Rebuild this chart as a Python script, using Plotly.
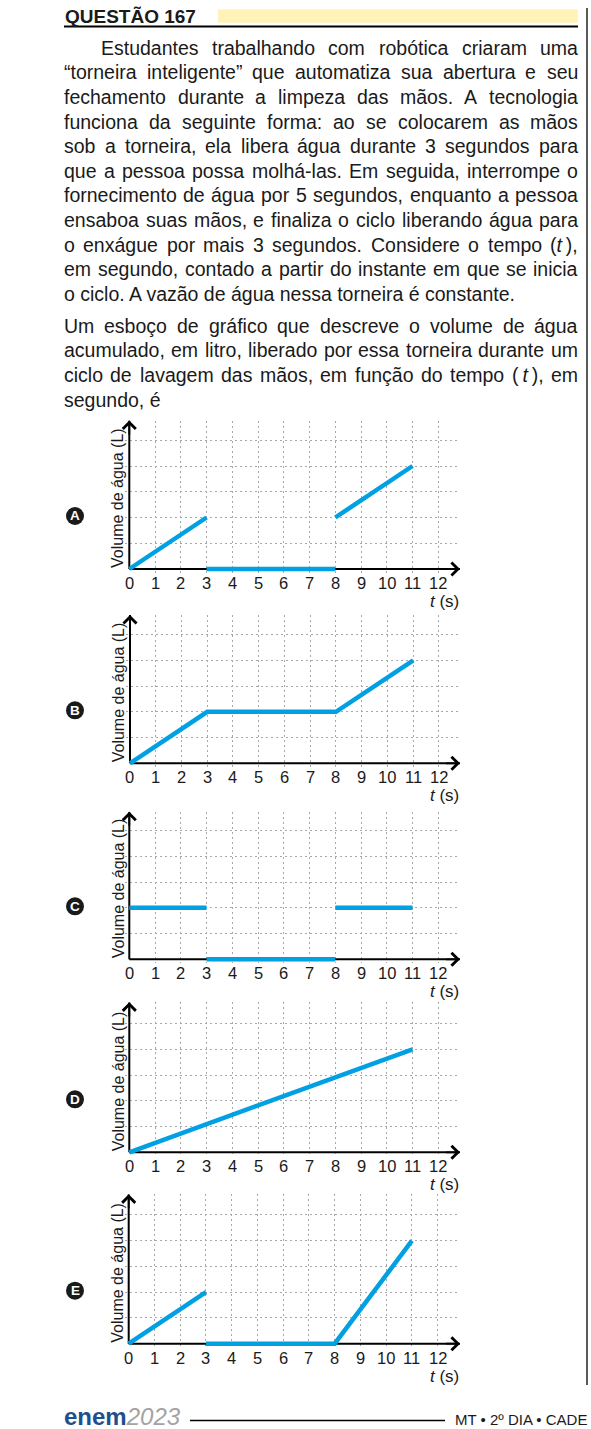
import re
import plotly.graph_objects as go

W_PX, H_PX = 591, 1429
FONT = "Liberation Sans, Arial, sans-serif"
BLUE = "#00a0e3"
INK = "#1a1a1a"

# volume (grid units) against time t (s) for each answer option
option_letters = ["A", "B", "C", "D", "E"]
t_a = [0, 3, None, 3, 8, None, 8, 11]
v_a = [0, 2, None, 0, 0, None, 2, 4]
t_b = [0, 3, 8, 11]
v_b = [0, 2, 2, 4]
t_c = [0, 3, None, 3, 8, None, 8, 11]
v_c = [2, 2, None, 0, 0, None, 2, 2]
t_d = [0, 11]
v_d = [0, 4]
t_e = [0, 3, None, 3, 8, 11]
v_e = [0, 2, None, 0, 0, 4]
x_ticks = list(range(13))
y_grid = [1, 2, 3, 4, 5]

title_txt = "QUESTÃO 167"
para1 = [
    "Estudantes trabalhando com robótica criaram uma",
    "“torneira inteligente” que automatiza sua abertura e seu",
    "fechamento durante a limpeza das mãos. A tecnologia",
    "funciona da seguinte forma: ao se colocarem as mãos",
    "sob a torneira, ela libera água durante 3 segundos para",
    "que a pessoa possa molhá-las. Em seguida, interrompe o",
    "fornecimento de água por 5 segundos, enquanto a pessoa",
    "ensaboa suas mãos, e finaliza o ciclo liberando água para",
    "o enxágue por mais 3 segundos. Considere o tempo (<i>t</i>\u2009),",
    "em segundo, contado a partir do instante em que se inicia",
    "o ciclo. A vazão de água nessa torneira é constante.",
]
para2 = [
    "Um esboço de gráfico que descreve o volume de água",
    "acumulado, em litro, liberado por essa torneira durante um",
    "ciclo de lavagem das mãos, em função do tempo (\u2009<i>t</i>\u2009), em",
    "segundo, é",
]

# page geometry (pixels)
origin_x = [129.3, 130, 129.3, 129.3, 128.7]
origin_y = [569, 763.3, 959.3, 1152.3, 1343.7]
top_y = [420.5, 615, 811.7, 1002.3, 1194.3]
UNIT = 25.75
RIGHT = 460
PAD = 0.15  # a little room below / left of 0 so the thick lines are not clipped
TXT_L, TXT_R = 64, 578
BODY = 19.5

# arial / liberation sans advance widths (1/1000 em)
CHAR_W = {" ": 278, "\u2009": 200, "“": 333, "”": 333, "(": 333, ")": 333, ",": 278,
          ".": 278, "-": 333, ":": 278, "A": 667, "C": 722, "E": 667, "U": 722,
          "a": 556, "b": 556, "c": 500, "d": 556, "e": 556, "f": 278, "g": 556,
          "h": 556, "i": 222, "j": 222, "k": 500, "l": 222, "m": 833, "n": 556,
          "o": 556, "p": 556, "q": 556, "r": 333, "s": 500, "t": 278, "u": 556,
          "v": 500, "x": 500, "z": 500, "á": 556, "ã": 556, "é": 556, "ó": 556,
          "ç": 500, "õ": 556, "í": 278}


def px(x):
    return x / W_PX


def py(y):
    return 1 - y / H_PX


def text_w(s, size):
    s = re.sub(r"<[^>]+>", "", s)
    return sum(CHAR_W.get(c, 556) for c in s) * size / 1000.0


fig = go.Figure()


def label(x, y, text, size, xanchor="left", **kw):
    fig.add_annotation(x=px(x), y=py(y), xref="paper", yref="paper", text=text,
                       showarrow=False, xanchor=xanchor, yanchor="middle",
                       borderpad=0, borderwidth=0,
                       font=kw.pop("font", dict(family=FONT, size=size, color=INK)), **kw)


def body_line(text, baseline, left, justify):
    mid = baseline - 0.3465 * BODY
    if not justify:
        label(left, mid, text, BODY)
        return
    words = text.split(" ")
    gap = (TXT_R - left - sum(text_w(w, BODY) for w in words)) / (len(words) - 1)
    x = left
    for k, w in enumerate(words):
        if k == len(words) - 1:
            label(TXT_R, mid, w, BODY, xanchor="right")
        else:
            label(x, mid, w, BODY)
        x += text_w(w, BODY) + gap


for i, line in enumerate(para1):
    body_line(line, 54.5 + 24.6 * i, 101 if i == 0 else TXT_L, i < len(para1) - 1)
for i, line in enumerate(para2):
    body_line(line, 332.5 + 24.6 * i, TXT_L, i < len(para2) - 1)

# header
fig.add_shape(type="rect", xref="paper", yref="paper", x0=px(218), x1=px(578),
              y0=py(22.7), y1=py(9.3), fillcolor="#fff3b8", line_width=0)
fig.add_shape(type="line", xref="paper", yref="paper", x0=px(64), x1=px(578),
              y0=py(26.5), y1=py(26.5), line=dict(color="black", width=2))
fig.add_shape(type="line", xref="paper", yref="paper", x0=px(587), x1=px(587),
              y0=py(8), y1=py(1385), line=dict(color="black", width=1.3))
label(65, 23.3 - 0.3465 * 19, "<b>" + title_txt + "</b>", 19)

# the five option charts
series = [(t_a, v_a), (t_b, v_b), (t_c, v_c), (t_d, v_d), (t_e, v_e)]
for i, (t, v) in enumerate(series):
    n = "" if i == 0 else str(i + 1)
    xa, ya = "x" + n, "y" + n
    ox, oy, top = origin_x[i], origin_y[i], top_y[i]
    xmax = (RIGHT - ox) / UNIT
    ymax = (oy - top) / UNIT
    common = dict(showgrid=True, gridcolor="#a8a8a8", gridwidth=1, griddash="2px,3px",
                  zeroline=False, showline=False, ticks="", showticklabels=False,
                  fixedrange=True)
    fig.update_layout({
        "xaxis" + n: dict(domain=[px(ox - PAD * UNIT), px(RIGHT)], range=[-PAD, xmax],
                          anchor=ya, tickvals=x_ticks[1:], **common),
        "yaxis" + n: dict(domain=[py(oy + PAD * UNIT), py(top)], range=[-PAD, ymax],
                          anchor=xa, tickvals=y_grid, **common),
    })
    # axes, under the blue curve
    fig.add_shape(type="line", xref=xa, yref=ya, x0=0, x1=xmax, y0=0, y1=0,
                  layer="between", line=dict(color="black", width=2))
    fig.add_shape(type="line", xref=xa, yref=ya, x0=0, x1=0, y0=0, y1=ymax,
                  layer="between", line=dict(color="black", width=2))
    fig.add_trace(go.Scatter(x=t, y=v, xaxis=xa, yaxis=ya, mode="lines",
                             line=dict(color=BLUE, width=4.5), cliponaxis=False,
                             hoverinfo="skip", showlegend=False))
    # arrow heads
    for hx, hy, tx, ty in [(xmax, 0, xmax - 0.6, 0), (0, ymax, 0, ymax - 0.6)]:
        fig.add_annotation(x=hx, y=hy, ax=tx, ay=ty, xref=xa, yref=ya, axref=xa, ayref=ya,
                           text="", showarrow=True, arrowhead=4, arrowsize=1.4,
                           arrowwidth=1.8, arrowcolor="black")
    # tick labels
    for tv in x_ticks:
        fig.add_annotation(x=tv, y=py(oy + 14), xref=xa, yref="paper", text=str(tv),
                           showarrow=False, xanchor="center", yanchor="middle",
                           borderpad=0, borderwidth=0,
                           font=dict(family=FONT, size=16.5, color=INK))
    label(459, oy + 32.5, "<i>t</i> (s)", 17, xanchor="right")
    label(118, oy - 71, "Volume de água (L)", 16, xanchor="center", textangle=-90)
    fig.add_shape(type="circle", xref="paper", yref="paper", x0=px(66), x1=px(84),
                  y0=py(oy - 53 + 9), y1=py(oy - 53 - 9), fillcolor=INK, line_width=0)
    label(75, oy - 53, "<b>" + option_letters[i] + "</b>", 13.5, xanchor="center",
          font=dict(family=FONT, size=13.5, color="white"))

# footer
label(64, 1425 - 0.3465 * 24,
      '<span style="color:#1e4f8f"><b>enem</b></span><span style="color:#a3a3a3"><i>2023</i></span>', 24)
fig.add_shape(type="line", xref="paper", yref="paper", x0=px(190), x1=px(445),
              y0=py(1420.5), y1=py(1420.5), line=dict(color="black", width=1.5))
label(455, 1425 - 0.3465 * 15, "MT • 2º DIA • CADE", 15)

fig.update_layout(width=W_PX, height=H_PX, margin=dict(l=0, r=0, t=0, b=0),
                  paper_bgcolor="white", plot_bgcolor="white", showlegend=False,
                  font=dict(family=FONT, color=INK))

fig.write_html("out.html", config={"displayModeBar": False},
               post_script="document.body.style.margin='0';")
